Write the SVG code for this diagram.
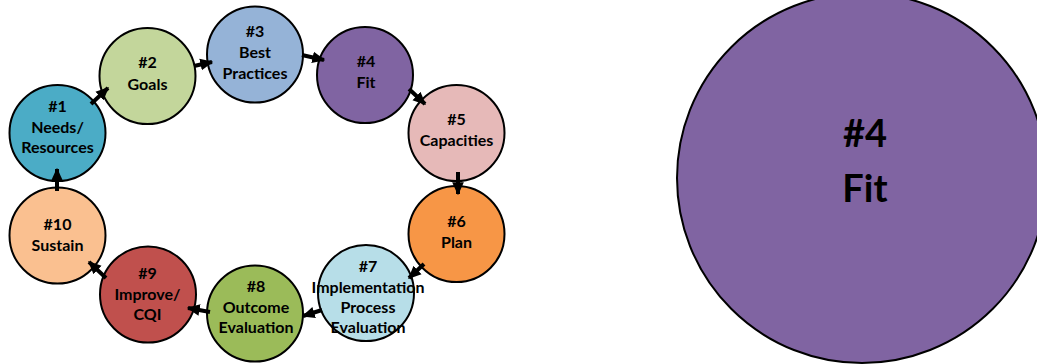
<svg xmlns="http://www.w3.org/2000/svg" width="1037" height="364" viewBox="0 0 1037 364">
<style>
.c{stroke:#000;stroke-width:2}
.t{font-family:Lato,"Liberation Sans",sans-serif;font-weight:bold;font-size:16px;fill:#000;text-anchor:middle}
.big{font-size:38px}
.a{stroke:#000;stroke-width:4;fill:none;marker-end:url(#ah)}
</style>
<defs>
<marker id="ah" markerUnits="userSpaceOnUse" markerWidth="13" markerHeight="13" viewBox="0 0 10 10" refX="9" refY="5" orient="auto">
<path d="M0,0.5 L10,5 L0,9.5 Z" fill="#000"/>
</marker>
</defs>
<rect width="1037" height="364" fill="#fff"/>
<g id="n1"><circle class="c" cx="57.5" cy="133" r="48" fill="#4BACC6"/><text class="t" x="57.5" y="112">#1</text><text class="t" x="57.5" y="133">Needs/</text><text class="t" x="57.5" y="153">Resources</text></g>
<g id="n2"><circle class="c" cx="147.5" cy="76" r="48" fill="#C3D69B"/><text class="t" x="147.5" y="68">#2</text><text class="t" x="147.5" y="90">Goals</text></g>
<g id="n3"><circle class="c" cx="255" cy="54.5" r="48" fill="#95B3D7"/><text class="t" x="255" y="37">#3</text><text class="t" x="255" y="58">Best</text><text class="t" x="255" y="79">Practices</text></g>
<g id="n4"><circle class="c" cx="365" cy="75" r="48" fill="#8064A2"/><text class="t" x="366" y="67">#4</text><text class="t" x="366" y="88">Fit</text></g>
<g id="n5"><circle class="c" cx="456.5" cy="133" r="48" fill="#E6B9B8"/><text class="t" x="456.5" y="125">#5</text><text class="t" x="456.5" y="146">Capacities</text></g>
<g id="n6"><circle class="c" cx="456.5" cy="234" r="48" fill="#F79646"/><text class="t" x="456.5" y="227">#6</text><text class="t" x="456.5" y="248">Plan</text></g>
<g id="n7"><circle class="c" cx="366" cy="293" r="48" fill="#B7DEE8"/><text class="t" x="368" y="272">#7</text><text class="t" x="368" y="293">Implementation</text><text class="t" x="368" y="313">Process</text><text class="t" x="368" y="333">Evaluation</text></g>
<g id="n8"><circle class="c" cx="255" cy="313.5" r="48" fill="#9BBB59"/><text class="t" x="256" y="292">#8</text><text class="t" x="256" y="313">Outcome</text><text class="t" x="256" y="333">Evaluation</text></g>
<g id="n9"><circle class="c" cx="148" cy="294.5" r="48" fill="#C0504D"/><text class="t" x="147.5" y="279">#9</text><text class="t" x="147.5" y="300">Improve/</text><text class="t" x="147.5" y="320">CQI</text></g>
<g id="n10"><circle class="c" cx="57.5" cy="235.5" r="48" fill="#FAC090"/><text class="t" x="57.5" y="230">#10</text><text class="t" x="57.5" y="251">Sustain</text></g>
<g id="big"><circle class="c" cx="862" cy="178" r="185" fill="#8064A2"/><text class="t big" x="865" y="147">#4</text><text class="t big" x="865" y="202">Fit</text></g>
<g id="connectors">
<line class="a" x1="91" y1="104" x2="108" y2="88"/>
<line class="a" x1="194" y1="66" x2="212" y2="62"/>
<line class="a" x1="302" y1="55" x2="324" y2="60"/>
<line class="a" x1="409" y1="89" x2="425" y2="104"/>
<line class="a" x1="458" y1="172" x2="458" y2="194"/>
<line class="a" x1="424" y1="264" x2="409" y2="278"/>
<line class="a" x1="322" y1="310" x2="303" y2="316"/>
<line class="a" x1="210" y1="312" x2="188" y2="308"/>
<line class="a" x1="106" y1="278" x2="89" y2="262"/>
<line class="a" x1="57" y1="191" x2="57" y2="169"/>
</g>
</svg>
